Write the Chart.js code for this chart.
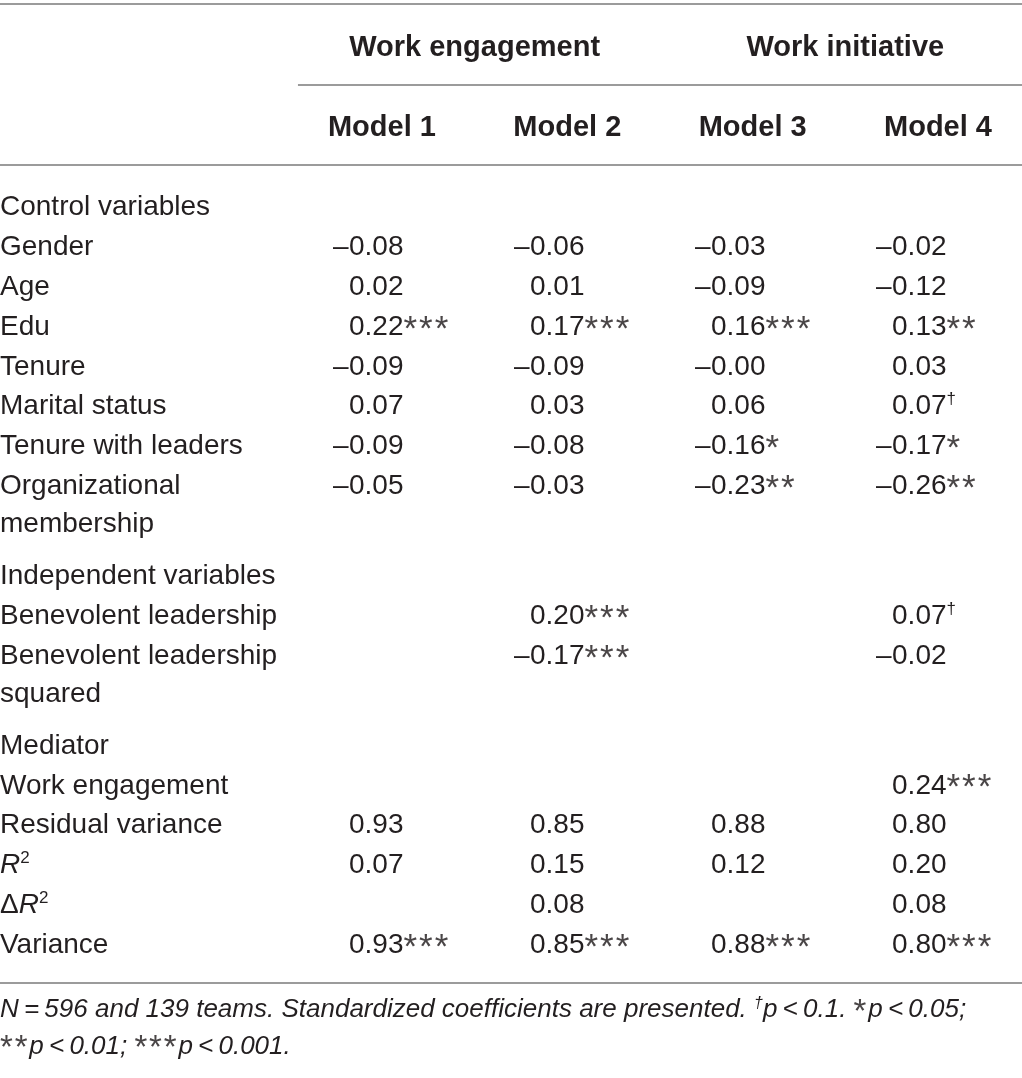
<!DOCTYPE html>
<html>
<head>
<meta charset="utf-8">
<script src="https://cdn.jsdelivr.net/npm/chart.js@4.4.1/dist/chart.umd.min.js"></script>
<style>
  html, body { margin: 0; padding: 0; background: #fff; }
</style>
</head>
<body>
<canvas id="tabla" width="1022" height="1078"></canvas>
<script>
// ---- datos de la tabla ----
const groupHeaders = ["Work engagement", "Work initiative"];
const modelHeaders = ["Model 1", "Model 2", "Model 3", "Model 4"];
const rowLabels = [
  "Control variables",
  "Gender",
  "Age",
  "Edu",
  "Tenure",
  "Marital status",
  "Tenure with leaders",
  ["Organizational", "membership"],
  "Independent variables",
  "Benevolent leadership",
  ["Benevolent leadership", "squared"],
  "Mediator",
  "Work engagement",
  "Residual variance",
  "R²",
  "ΔR²",
  "Variance",
];
const model1 = [null, -0.08, 0.02, 0.22, -0.09, 0.07, -0.09, -0.05, null, null, null, null, null, 0.93, 0.07, null, 0.93];
const model1Sig = ["", "", "", "***", "", "", "", "", "", "", "", "", "", "", "", "", "***"];
const model2 = [null, -0.06, 0.01, 0.17, -0.09, 0.03, -0.08, -0.03, null, 0.2, -0.17, null, null, 0.85, 0.15, 0.08, 0.85];
const model2Sig = ["", "", "", "***", "", "", "", "", "", "***", "***", "", "", "", "", "", "***"];
const model3 = [null, -0.03, -0.09, 0.16, -0, 0.06, -0.16, -0.23, null, null, null, null, null, 0.88, 0.12, null, 0.88];
const model3Sig = ["", "", "", "***", "", "", "*", "**", "", "", "", "", "", "", "", "", "***"];
const model4 = [null, -0.02, -0.12, 0.13, 0.03, 0.07, -0.17, -0.26, null, 0.07, -0.02, null, 0.24, 0.8, 0.2, 0.08, 0.8];
const model4Sig = ["", "", "", "**", "", "†", "*", "**", "", "†", "", "", "***", "", "", "", "***"];
const footnoteLines = [
  "N\u2009=\u2009596 and 139 teams. Standardized coefficients are presented. †p\u2009<\u20090.1. *p\u2009<\u20090.05;",
  "**p\u2009<\u20090.01; ***p\u2009<\u20090.001.",
];

// ---- maquetacion ----
const FONT = "'Liberation Sans', Arial, Helvetica, sans-serif";
const TEXT_COLOR = "#231f20";
const STAR_COLOR = "#4a4647";
const RULE_COLOR = "#9b9b9b";
const BODY_SIZE = 28;
const HEAD_SIZE = 29;
const NOTE_SIZE = 26;
const STAR_SCALE = 1.25; // asteriscos algo mayores, como en el original
const STAR_EXTRA = 0.07; // espacio extra tras cada asterisco (em)

const WRAP_STEP = 0.95;
const SECTION_GAP = 0.3;
const sectionRows = [8, 11];

const rowPos = [];
let cursor = 0;
rowLabels.forEach((lab, i) => {
  if (sectionRows.includes(i)) cursor += SECTION_GAP;
  rowPos.push(cursor);
  cursor += 1 + (Array.isArray(lab) ? (lab.length - 1) * WRAP_STEP : 0);
});

const X_MIN = -0.928;
const X_MAX = 4.718;
const Y_MIN = -5.14;
const Y_MAX = 21.88;
const HEADER_START = 1.182;
const HEADER_STEP = 1.024;

const layout = {
  topRule: -5.04,
  groupY: -4.0,
  subRule: -3.0,
  subRuleFrom: 0.718,
  modelY: -1.98,
  midRule: -1.0,
  bottomRule: 19.5,
  noteY: [20.12, 21.04],
};

const models = [
  { vals: model1, sig: model1Sig },
  { vals: model2, sig: model2Sig },
  { vals: model3, sig: model3Sig },
  { vals: model4, sig: model4Sig },
];

// texto enriquecido: superindices, asteriscos y cursivas simples
function toRuns(str, italicAll) {
  const runs = [];
  for (let k = 0; k < str.length; k++) {
    const ch = str[k];
    if (ch === "²") runs.push({ t: "2", sup: true, italic: italicAll, lock: true });
    else if (ch === "†") runs.push({ t: "†", sup: true, italic: italicAll, lock: true });
    else if (ch === "*") runs.push({ t: "*", star: true, lock: true });
    else if (ch === "R" && str[k + 1] === "²") runs.push({ t: "R", italic: true, lock: true });
    else {
      const last = runs[runs.length - 1];
      if (last && !last.lock && !!last.italic === !!italicAll) last.t += ch;
      else runs.push({ t: ch, italic: italicAll });
    }
  }
  return runs;
}

function fontFor(run, size, weight) {
  let s = size;
  if (run.sup) s = Math.round(size * 0.62);
  if (run.star) s = Math.round(size * STAR_SCALE);
  return `${run.italic ? "italic " : ""}${weight} ${s}px ${FONT}`;
}

function runAdvance(ctx, r, size) {
  return ctx.measureText(r.t).width + (r.star ? size * STAR_EXTRA : 0);
}

function drawRuns(ctx, runs, x, yMid, size, weight) {
  const base = yMid + size * 0.355;
  let cx = x;
  runs.forEach((r) => {
    ctx.font = fontFor(r, size, weight);
    let yy = base;
    if (r.sup) yy = base - size * 0.36;
    if (r.star) yy = base + size * (STAR_SCALE - 1) * 0.7;
    ctx.fillStyle = r.star ? STAR_COLOR : TEXT_COLOR;
    ctx.fillText(r.t, cx, yy);
    cx += runAdvance(ctx, r, size);
  });
  ctx.fillStyle = TEXT_COLOR;
  return cx - x;
}

function runsWidth(ctx, runs, size, weight) {
  let w = 0;
  runs.forEach((r) => {
    ctx.font = fontFor(r, size, weight);
    w += runAdvance(ctx, r, size);
  });
  return w;
}

const tablaPlugin = {
  id: "tablaPlugin",
  afterDatasetsDraw(chart) {
    const { ctx, scales } = chart;
    const sx = scales.x;
    const sy = scales.y;
    ctx.save();
    ctx.textBaseline = "alphabetic";
    ctx.textAlign = "left";
    ctx.fillStyle = TEXT_COLOR;

    // lineas horizontales
    ctx.strokeStyle = RULE_COLOR;
    ctx.lineWidth = 2;
    const rule = (yv, fromX) => {
      const py = Math.round(sy.getPixelForValue(yv));
      ctx.beginPath();
      ctx.moveTo(sx.getPixelForValue(fromX), py);
      ctx.lineTo(sx.getPixelForValue(X_MAX), py);
      ctx.stroke();
    };
    rule(layout.topRule, X_MIN);
    rule(layout.subRule, layout.subRuleFrom);
    rule(layout.midRule, X_MIN);
    rule(layout.bottomRule, X_MIN);

    // cabeceras
    const centered = (txt, xv, yv) => {
      const runs = [{ t: txt }];
      const w = runsWidth(ctx, runs, HEAD_SIZE, "bold");
      drawRuns(ctx, runs, sx.getPixelForValue(xv) - w / 2, sy.getPixelForValue(yv), HEAD_SIZE, "bold");
    };
    const headerX = (mi) => HEADER_START + mi * HEADER_STEP;
    groupHeaders.forEach((g, gi) => centered(g, (headerX(gi * 2) + headerX(gi * 2 + 1)) / 2, layout.groupY));
    modelHeaders.forEach((m, mi) => centered(m, headerX(mi), layout.modelY));

    // celdas
    chart.data.datasets.forEach((ds, di) => {
      const meta = chart.getDatasetMeta(di);
      meta.data.forEach((el, j) => {
        const raw = ds.data[j];
        if (ds.kind === "label") {
          const lines = Array.isArray(raw.text) ? raw.text : [raw.text];
          lines.forEach((ln, li) => {
            const py = sy.getPixelForValue(raw.y + li * WRAP_STEP);
            drawRuns(ctx, toRuns(ln, false), el.x, py, BODY_SIZE, "normal");
          });
        } else {
          const v = raw.v;
          const neg = v < 0 || Object.is(v, -0);
          const body = Math.abs(v).toFixed(2) + raw.sig;
          if (neg) {
            ctx.font = `normal ${BODY_SIZE}px ${FONT}`;
            const dw = ctx.measureText("–").width;
            drawRuns(ctx, [{ t: "–" }], el.x - dw - 0.5, el.y, BODY_SIZE, "normal");
          }
          drawRuns(ctx, toRuns(body, false), el.x, el.y, BODY_SIZE, "normal");
        }
      });
    });

    // nota al pie
    footnoteLines.forEach((ln, li) => {
      drawRuns(ctx, toRuns(ln, true), sx.getPixelForValue(X_MIN), sy.getPixelForValue(layout.noteY[li]), NOTE_SIZE, "normal");
    });
    ctx.restore();
  },
};

const labelDataset = {
  kind: "label",
  data: rowLabels.map((lab, i) => ({ x: X_MIN, y: rowPos[i], text: lab })),
};
const modelDatasets = models.map((m, mi) => ({
  kind: "value",
  label: modelHeaders[mi],
  data: m.vals
    .map((v, i) => (v === null ? null : { x: mi + 1, y: rowPos[i], v: v, sig: m.sig[i] }))
    .filter((p) => p !== null),
}));

new Chart(document.getElementById("tabla"), {
  type: "scatter",
  data: { datasets: [labelDataset, ...modelDatasets] },
  options: {
    responsive: false,
    animation: false,
    layout: { padding: 0 },
    elements: { point: { radius: 0, hoverRadius: 0 } },
    plugins: {
      legend: { display: false },
      tooltip: { enabled: false },
      title: { display: false },
    },
    scales: {
      x: { type: "linear", min: X_MIN, max: X_MAX, display: false },
      y: { type: "linear", reverse: true, min: Y_MIN, max: Y_MAX, display: false },
    },
  },
  plugins: [tablaPlugin],
});
</script>
</body>
</html>
